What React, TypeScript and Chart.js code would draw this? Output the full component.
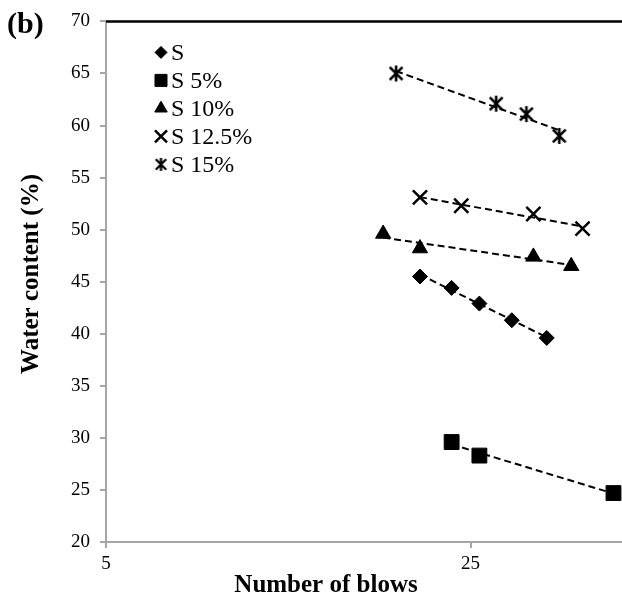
import React, { useEffect, useRef } from 'react';
import { Chart, registerables } from 'chart.js';
import { drawPoint } from 'chart.js/helpers';

Chart.register(...registerables);

// ---- data ----
const seriesNames = ['S', 'S 5%', 'S 10%', 'S 12.5%', 'S 15%'];
const blowsS = [20, 23, 26, 30, 35];
const waterS = [45.5, 44.4, 42.9, 41.3, 39.6];
const blowsS5 = [23, 26, 47];
const waterS5 = [29.6, 28.3, 24.7];
const blowsS10 = [17, 20, 33, 39];
const waterS10 = [49.6, 48.2, 47.4, 46.5];
const blowsS125 = [20, 24, 33, 41];
const waterS125 = [53.1, 52.3, 51.5, 50.1];
const blowsS15 = [18, 28, 32, 37];
const waterS15 = [65.0, 62.1, 61.1, 59.0];
const xTickValues = [5, 25];
const xMin = 5;
const xMax = 48.8;
const yMin = 20;
const yMax = 70;
const yStep = 5;
const xTitle = 'Number of blows';
const yTitle = 'Water content (%)';
const panelLabel = '(b)';

const FONT = "'Liberation Serif', 'Times New Roman', serif";

function makeStar(size: number, lw: number) {
  const c = document.createElement('canvas');
  c.width = size;
  c.height = size;
  const g = c.getContext('2d')!;
  g.strokeStyle = '#000';
  g.lineWidth = lw;
  const m = size / 2;
  const r = size / 2 - 1;
  const d = r * 0.8;
  g.beginPath();
  g.moveTo(m - d, m - d);
  g.lineTo(m + d, m + d);
  g.moveTo(m + d, m - d);
  g.lineTo(m - d, m + d);
  g.moveTo(m, m - r);
  g.lineTo(m, m + r);
  g.stroke();
  return c;
}

function logFit(xs: number[], ys: number[]) {
  const n = xs.length;
  const lx = xs.map((v) => Math.log(v));
  const mx = lx.reduce((a, b) => a + b, 0) / n;
  const my = ys.reduce((a, b) => a + b, 0) / n;
  let num = 0;
  let den = 0;
  for (let i = 0; i < n; i++) {
    num += (lx[i] - mx) * (ys[i] - my);
    den += (lx[i] - mx) * (lx[i] - mx);
  }
  const b = num / den;
  const a = my - b * mx;
  const lo = Math.min(...xs);
  const hi = Math.max(...xs);
  return [
    { x: lo, y: a + b * Math.log(lo) },
    { x: hi, y: a + b * Math.log(hi) },
  ];
}

export default function App() {
  const ref = useRef<HTMLCanvasElement | null>(null);

  useEffect(() => {
    if (!ref.current) return;
    const star = makeStar(18, 2.6);
    const starSmall = makeStar(15, 2.3);

    const series = [
      { xs: blowsS, ys: waterS, style: 'rectRot' as any, r: 7.5, bw: 1, legendStyle: 'rectRot' as any, lr: 6 },
      { xs: blowsS5, ys: waterS5, style: 'rect' as any, r: 10.5, bw: 1, legendStyle: 'rect' as any, lr: 8.5 },
      { xs: blowsS10, ys: waterS10, style: 'triangle' as any, r: 8.8, bw: 1, legendStyle: 'triangle' as any, lr: 7.2 },
      { xs: blowsS125, ys: waterS125, style: 'crossRot' as any, r: 10, bw: 2.5, legendStyle: 'crossRot' as any, lr: 8.5 },
      { xs: blowsS15, ys: waterS15, style: star as any, r: 9, bw: 2.4, legendStyle: starSmall as any, lr: 7.5 },
    ];

    const datasets: any[] = [];
    series.forEach((s, i) => {
      datasets.push({
        label: seriesNames[i],
        data: s.xs.map((x, k) => ({ x, y: s.ys[k] })),
        showLine: false,
        pointStyle: s.style,
        pointRadius: s.r,
        pointHoverRadius: s.r,
        pointBackgroundColor: '#000',
        pointBorderColor: '#000',
        pointBorderWidth: s.bw,
        order: 0,
      });
    });
    series.forEach((s, i) => {
      datasets.push({
        label: seriesNames[i] + ' trend',
        data: logFit(s.xs, s.ys),
        showLine: true,
        borderColor: '#000',
        borderWidth: 2,
        borderDash: [7, 4],
        pointRadius: 0,
        fill: false,
        order: 1,
      });
    });

    const decor = {
      id: 'decor',
      afterDraw(chart: any) {
        const ctx = chart.ctx;
        const ca = chart.chartArea;
        ctx.save();
        // top border
        ctx.strokeStyle = '#000';
        ctx.lineWidth = 2.5;
        ctx.beginPath();
        ctx.moveTo(ca.left, ca.top);
        ctx.lineTo(ca.right, ca.top);
        ctx.stroke();

        // legend
        const lx = ca.left + 55;
        const ly0 = ca.top + 31;
        const step = 28;
        series.forEach((s, i) => {
          const y = ly0 + i * step;
          ctx.fillStyle = '#000';
          ctx.strokeStyle = '#000';
          ctx.lineWidth = s.bw;
          drawPoint(ctx, { pointStyle: s.legendStyle, radius: s.lr, borderWidth: s.bw, rotation: 0 } as any, lx, y);
          ctx.fillStyle = '#000';
          ctx.font = `24px ${FONT}`;
          ctx.textAlign = 'left';
          ctx.textBaseline = 'middle';
          ctx.fillText(seriesNames[i], lx + 10, y + 1);
        });

        // panel label
        ctx.fillStyle = '#000';
        ctx.font = `bold 30px ${FONT}`;
        ctx.textAlign = 'left';
        ctx.textBaseline = 'alphabetic';
        ctx.fillText(panelLabel, 7, 33);

        // x title
        ctx.font = `bold 25px ${FONT}`;
        ctx.textAlign = 'center';
        ctx.fillText(xTitle, 326, 592);

        // y title
        ctx.translate(38, 274);
        ctx.rotate(-Math.PI / 2);
        ctx.textAlign = 'center';
        ctx.fillText(yTitle, 0, 0);
        ctx.restore();
      },
    };

    const chart = new Chart(ref.current, {
      type: 'scatter',
      data: { datasets },
      options: {
        animation: false,
        responsive: false,
        layout: { autoPadding: false, padding: { top: 16, right: 0, left: 0, bottom: 0 } },
        plugins: { legend: { display: false }, tooltip: { enabled: false } },
        scales: {
          x: {
            type: 'logarithmic',
            position: 'bottom',
            min: xMin,
            max: xMax,
            afterBuildTicks: (scale: any) => {
              scale.ticks = xTickValues.map((v) => ({ value: v }));
            },
            afterFit: (scale: any) => {
              scale.height = 54;
            },
            ticks: {
              autoSkip: false,
              maxRotation: 0,
              color: '#000',
              padding: 5,
              font: { family: FONT, size: 19 },
              callback: (v: any) => String(v),
            },
            grid: {
              drawOnChartArea: false,
              drawTicks: true,
              tickLength: 6,
              color: '#a6a6a6',
              lineWidth: 2,
            },
            border: { display: true, color: '#a6a6a6', width: 2 },
          },
          y: {
            type: 'linear',
            min: yMin,
            max: yMax,
            afterFit: (scale: any) => {
              scale.width = 106;
            },
            ticks: {
              stepSize: yStep,
              color: '#000',
              padding: 10,
              font: { family: FONT, size: 19 },
            },
            grid: {
              drawOnChartArea: false,
              drawTicks: true,
              tickLength: 6,
              color: '#a6a6a6',
              lineWidth: 2,
            },
            border: { display: true, color: '#a6a6a6', width: 2 },
          },
        },
      } as any,
      plugins: [decor],
    });
    return () => chart.destroy();
  }, []);

  return (
    <div style={{ position: 'absolute', left: 0, top: 0, width: 622, height: 596, background: '#fff' }}>
      <canvas ref={ref} width={622} height={596} style={{ display: 'block' }} />
    </div>
  );
}
